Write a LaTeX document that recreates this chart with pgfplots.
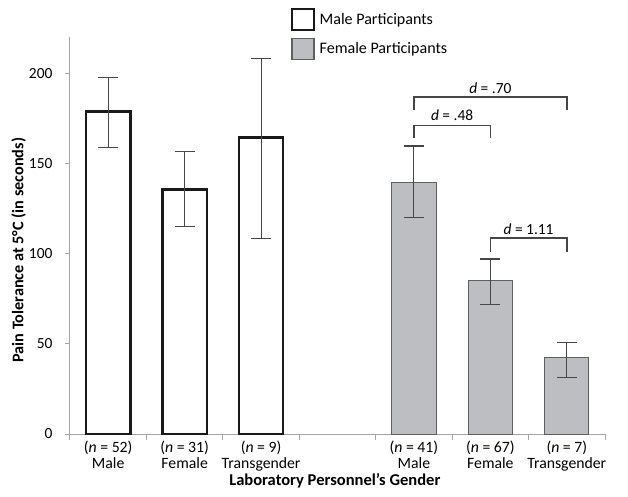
\documentclass[border=0pt]{standalone}
\usepackage{pgfplots}
\pgfplotsset{compat=1.18}
\usepackage{fontspec}
\setmainfont{Carlito}
\definecolor{fbar}{RGB}{189,190,194}
\definecolor{fedge}{RGB}{95,95,95}
\definecolor{axgray}{RGB}{165,165,165}
\definecolor{errc}{RGB}{70,70,70}
\pgfplotsset{boxlegend/.style={legend image code/.code={\draw[##1, line width=1.5bp] (0bp,-10.5bp) rectangle (22bp,10.5bp);}}}
\begin{document}
\begin{tikzpicture}
\useasboundingbox (-70bp,-63bp) rectangle (558bp,434bp);
\begin{axis}[
  at={(0,0)}, anchor=south west,
  scale only axis, width=535bp, height=397bp,
  xmin=-0.5, xmax=6.5, ymin=0, ymax=220,
  axis lines*=left,
  axis line style={axgray, line width=1bp},
  ybar, bar width=0.58, bar shift=0pt,
  clip=false,
  xtick={0,...,6},
  xticklabels={{(\textit{n} = 52)\\Male},{(\textit{n} = 31)\\Female},{(\textit{n} = 9)\\Transgender},{},{(\textit{n} = 41)\\Male},{(\textit{n} = 67)\\Female},{(\textit{n} = 7)\\Transgender}},
  xticklabel style={align=center, font=\fontsize{15.8}{16.5}\selectfont, yshift=2bp},
  every major x tick/.style={draw=none},
  minor xtick={-0.5,0.5,...,6.5},
  ytick={0,50,...,200},
  yticklabel style={font=\fontsize{15.5}{17}\selectfont, xshift=-9bp},
  /pgf/number format/assume math mode=true,
  tick align=outside,
  major tick length=5bp, minor tick length=6bp,
  tick style={axgray, line width=1bp},
  ylabel={\textbf{Pain Tolerance at 5°C (in seconds)}},
  ylabel style={at={(axis description cs:-0.096,0.463)}, anchor=center, font=\fontsize{16.3}{18}\selectfont},
  xlabel={\textbf{Laboratory Personnel’s Gender}},
  xlabel style={at={(axis description cs:0.495,0)}, yshift=-47bp, anchor=center, font=\fontsize{16.6}{18}\selectfont},
  legend style={at={(rel axis cs:0.413,1.073)}, anchor=north west, draw=none, fill=none,
    font=\fontsize{16.1}{17}\selectfont, row sep=7bp, inner sep=0pt,
    /tikz/every odd column/.append style={column sep=3bp}},
  legend cell align=left,
]
\addplot[fill=white, draw=black!90, line width=2.5bp, boxlegend,
  error bars/.cd, y dir=both, y explicit, error mark=|,
  error bar style={errc, line width=1bp},
  error mark options={errc, line width=1bp, mark size=10bp}]
coordinates {
  (0,178.8) += (0,18.9) -= (0,20.1)
  (1,135.6) += (0,21.0) -= (0,20.5)
  (2,164.4) += (0,43.5) -= (0,55.9)
};
\addlegendentry{Male Participants}
\addplot[fill=fbar, draw=fedge, line width=1bp, boxlegend,
  error bars/.cd, y dir=both, y explicit, error mark=|,
  error bar style={errc, line width=1.1bp},
  error mark options={errc, line width=1.1bp, mark size=10bp}]
coordinates {
  (4,139.5) += (0,20.1) -= (0,19.4)
  (5,84.8) += (0,12.2) -= (0,13.0)
  (6,42.4) += (0,8.5) -= (0,11.0)
};
\addlegendentry{Female Participants}
\draw[errc, line width=1.5bp] (axis cs:4,179.3) -- (axis cs:4,186.7) -- (axis cs:6,186.7) -- (axis cs:6,179.3);
\node[anchor=base, font=\fontsize{15.5}{17}\selectfont] at (axis cs:5,188.9) {\textit{d} = .70};
\draw[errc, line width=1.5bp] (axis cs:4,163.8) -- (axis cs:4,171) -- (axis cs:5,171) -- (axis cs:5,163.8);
\node[anchor=base, font=\fontsize{15.5}{17}\selectfont] at (axis cs:4.5,173.6) {\textit{d} = .48};
\draw[errc, line width=1.5bp] (axis cs:5,100.9) -- (axis cs:5,108.6) -- (axis cs:6,108.6) -- (axis cs:6,100.9);
\node[anchor=base, font=\fontsize{15.5}{17}\selectfont] at (axis cs:5.5,110.3) {\textit{d} = 1.11};
\end{axis}
\end{tikzpicture}
\end{document}
